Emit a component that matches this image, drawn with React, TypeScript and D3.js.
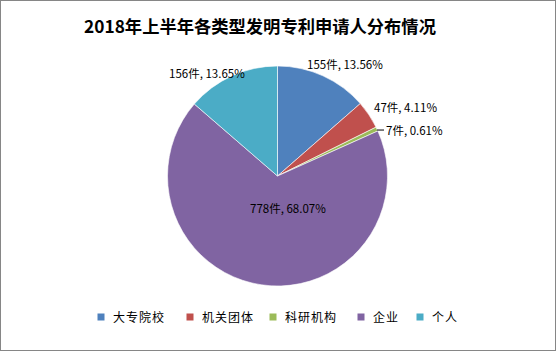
import { useRef, useEffect } from 'react'
import * as d3 from 'd3'

const CATEGORIES = ['大专院校', '机关团体', '科研机构', '企业', '个人']
const COUNTS = [155, 47, 7, 778, 156]
const PERCENTS = ['13.56%', '4.11%', '0.61%', '68.07%', '13.65%']
const COLORS = ['#4F81BD', '#C0504D', '#9BBB59', '#8064A2', '#4BACC6']
// label start position (left x, baseline y) for each slice
const LABEL_POS: [number, number][] = [
  [307, 68.5], [374, 111.5], [386, 134.5], [250, 213], [169, 78],
]
const LEGEND_X = [101, 190, 273, 361, 420]

const W = 556
const H = 351
const FONT = '"Noto Sans CJK SC", "Liberation Sans", sans-serif'

export default function App() {
  const svgRef = useRef<SVGSVGElement | null>(null)

  useEffect(() => {
    document.body.style.margin = '0'
    const el = svgRef.current
    if (!el) return
    const svg = d3.select(el)
    svg.selectAll('*').remove()

    svg.append('rect')
      .attr('x', 0.5).attr('y', 0.5)
      .attr('width', W - 1).attr('height', H - 1)
      .attr('fill', '#fff').attr('stroke', '#868686')

    svg.append('text')
      .attr('x', 260).attr('y', 33)
      .attr('text-anchor', 'middle')
      .attr('font-size', 17.3).attr('font-weight', 700)
      .attr('font-family', FONT)
      .attr('fill', '#000')
      .text('2018年上半年各类型发明专利申请人分布情况')

    const cx = 277.5, cy = 176, r = 110
    const data = CATEGORIES.map((c, i) => ({ c, v: COUNTS[i], p: PERCENTS[i], i }))
    const pie = d3.pie<typeof data[0]>().value(d => d.v).sort(null)
    const arc = d3.arc<d3.PieArcDatum<typeof data[0]>>().innerRadius(0).outerRadius(r)
    const arcs = pie(data)

    const g = svg.append('g').attr('transform', `translate(${cx},${cy})`)
    g.selectAll('path')
      .data(arcs)
      .join('path')
      .attr('d', arc)
      .attr('fill', d => COLORS[d.data.i])
      .attr('stroke', '#fff')
      .attr('stroke-width', 0.6)

    // leader line for the tiny slice
    const small = arcs[2]
    const mid = (small.startAngle + small.endAngle) / 2
    const ex = cx + Math.sin(mid) * r
    const ey = cy - Math.cos(mid) * r
    svg.append('line')
      .attr('x1', ex).attr('y1', ey + 1)
      .attr('x2', LABEL_POS[2][0] - 2).attr('y2', ey + 1)
      .attr('stroke', '#000').attr('stroke-width', 1)

    svg.selectAll('.lbl')
      .data(arcs)
      .join('text')
      .attr('class', 'lbl')
      .attr('x', d => LABEL_POS[d.data.i][0])
      .attr('y', d => LABEL_POS[d.data.i][1])
      .attr('font-size', 11.5)
      .attr('font-family', FONT)
      .attr('fill', '#000')
      .text(d => `${d.data.v}件, ${d.data.p}`)

    const lg = svg.selectAll('.lg')
      .data(CATEGORIES)
      .join('g')
      .attr('class', 'lg')
      .attr('transform', (_, i) => `translate(${LEGEND_X[i]},317)`)
    lg.append('rect')
      .attr('x', -3.5).attr('y', -3.5)
      .attr('width', 7).attr('height', 7)
      .attr('fill', (_, i) => COLORS[i])
    lg.append('text')
      .attr('x', 12).attr('y', 4.5)
      .attr('font-size', 12)
      .attr('letter-spacing', 1)
      .attr('font-family', FONT)
      .attr('fill', '#000')
      .text(d => d)
  }, [])

  return (
    <div>
      <svg ref={svgRef} width={W} height={H} style={{ display: 'block' }} />
    </div>
  )
}
